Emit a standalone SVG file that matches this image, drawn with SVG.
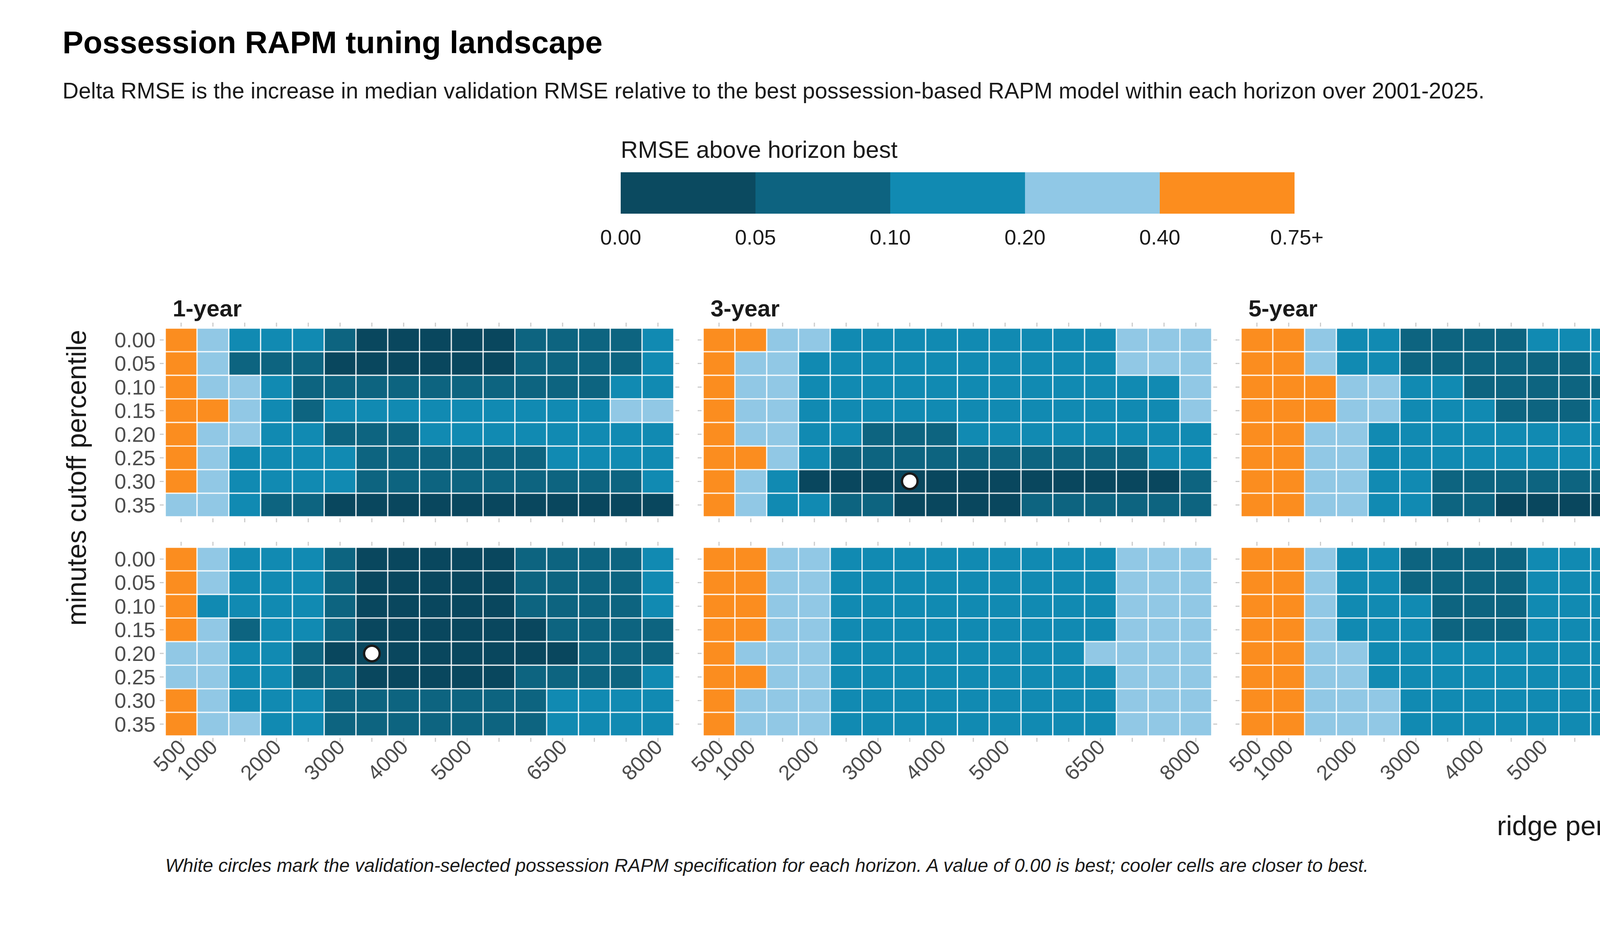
<svg xmlns="http://www.w3.org/2000/svg" width="4736" height="2368" viewBox="0 0 4736 2368">
<style>
.o{fill:#FB8D1F}.l{fill:#91C8E5}.m{fill:#118AB2}.d{fill:#0D6480}.k{fill:#09475E}
text{font-family:"Liberation Sans",Arial,sans-serif}
.yt{font-size:54px;fill:#4d4d4d;text-anchor:end}
.xt{font-size:54px;fill:#4d4d4d;text-anchor:end}
.st{font-size:60px;font-weight:bold;fill:#1a1a1a}
.lg{font-size:54px;fill:#1a1a1a;text-anchor:middle}
.tk{stroke:#cccccc;stroke-width:10;fill:none}
.tkh{stroke-dasharray:3 78.375;stroke-dashoffset:-39.19}
.tkv{stroke-dasharray:3 57.375;stroke-dashoffset:-28.69}
.sel{fill:#ffffff;stroke:#1a1a1a;stroke-width:6}
</style>
<defs>
<pattern id="grid" patternUnits="userSpaceOnUse" width="81.375" height="60.375">
<path d="M0 0H81.375M0 60.375H81.375M0 0V60.375M81.375 0V60.375" stroke="#ffffff" stroke-width="3" fill="none"/>
</pattern>
</defs>
<rect width="4736" height="2368" fill="#ffffff"/>
<text x="160" y="136" font-size="80" font-weight="bold" fill="#000">Possession RAPM tuning landscape</text>
<text x="160" y="252" font-size="57" fill="#1a1a1a">Delta RMSE is the increase in median validation RMSE relative to the best possession-based RAPM model within each horizon over 2001-2025.</text>
<g id="legend">
<text x="1589" y="404" font-size="61" fill="#1a1a1a">RMSE above horizon best</text>
<rect x="1589" y="441" width="345" height="106" fill="#0B4A60"/>
<rect x="1934" y="441" width="345" height="106" fill="#0D6380"/>
<rect x="2279" y="441" width="345" height="106" fill="#118AB2"/>
<rect x="2624" y="441" width="345" height="106" fill="#90C8E6"/>
<rect x="2969" y="441" width="345" height="106" fill="#FC8D1E"/>
<text class="lg" x="1589" y="626">0.00</text>
<text class="lg" x="1934" y="626">0.05</text>
<text class="lg" x="2279" y="626">0.10</text>
<text class="lg" x="2624" y="626">0.20</text>
<text class="lg" x="2969" y="626">0.40</text>
<text class="lg" x="3320" y="626">0.75+</text>
</g>
<text class="st" x="442" y="810">1-year</text>
<text class="st" x="1819" y="810">3-year</text>
<text class="st" x="3196" y="810">5-year</text>
<text class="st" transform="translate(4494,1081) rotate(90)" text-anchor="middle">pool</text>
<text class="st" transform="translate(4494,1643) rotate(90)" text-anchor="middle">drop</text>
<text transform="translate(220,1223) rotate(-90)" font-size="70" fill="#1a1a1a" text-anchor="middle">minutes cutoff percentile</text>
<g id="ytl">
<text class="yt" x="398" y="889">0.00</text><text class="yt" x="398" y="949">0.05</text><text class="yt" x="398" y="1010">0.10</text><text class="yt" x="398" y="1070">0.15</text><text class="yt" x="398" y="1131">0.20</text><text class="yt" x="398" y="1191">0.25</text><text class="yt" x="398" y="1251">0.30</text><text class="yt" x="398" y="1312">0.35</text>
<text class="yt" x="398" y="1450">0.00</text><text class="yt" x="398" y="1510">0.05</text><text class="yt" x="398" y="1571">0.10</text><text class="yt" x="398" y="1631">0.15</text><text class="yt" x="398" y="1692">0.20</text><text class="yt" x="398" y="1752">0.25</text><text class="yt" x="398" y="1812">0.30</text><text class="yt" x="398" y="1873">0.35</text>
</g>
<g id="ticks" class="tk">
<path class="tkh" d="M423 831H1725M1800 831H3102M3177 831H4479M423 1332H1725M1800 1332H3102M3177 1332H4479M423 1392H1725M1800 1392H3102M3177 1392H4479M423 1894H1725M1800 1894H3102M3177 1894H4479"/>
<path class="tkv" d="M414 840V1323M1734 840V1323M1791 840V1323M3111 840V1323M3168 840V1323M4488 840V1323M414 1401V1884M1734 1401V1884M1791 1401V1884M3111 1401V1884M3168 1401V1884M4488 1401V1884"/>
</g>
<g id="panel-1year-pool" transform="translate(423,840)">
<g transform="scale(81.375,60.375)">
<rect class="m" width="16" height="8"/>
<rect class="o" x="0" y="0" width="1" height="1"/><rect class="l" x="1" y="0" width="1" height="1"/><rect class="d" x="5" y="0" width="1" height="1"/><rect class="k" x="6" y="0" width="5" height="1"/><rect class="d" x="11" y="0" width="4" height="1"/>
<rect class="o" x="0" y="1" width="1" height="1"/><rect class="l" x="1" y="1" width="1" height="1"/><rect class="d" x="2" y="1" width="3" height="1"/><rect class="k" x="5" y="1" width="6" height="1"/><rect class="d" x="11" y="1" width="4" height="1"/>
<rect class="o" x="0" y="2" width="1" height="1"/><rect class="l" x="1" y="2" width="2" height="1"/><rect class="d" x="4" y="2" width="10" height="1"/>
<rect class="o" x="0" y="3" width="2" height="1"/><rect class="l" x="2" y="3" width="1" height="1"/><rect class="d" x="4" y="3" width="1" height="1"/><rect class="l" x="14" y="3" width="2" height="1"/>
<rect class="o" x="0" y="4" width="1" height="1"/><rect class="l" x="1" y="4" width="2" height="1"/><rect class="d" x="5" y="4" width="3" height="1"/>
<rect class="o" x="0" y="5" width="1" height="1"/><rect class="l" x="1" y="5" width="1" height="1"/><rect class="d" x="6" y="5" width="6" height="1"/>
<rect class="o" x="0" y="6" width="1" height="1"/><rect class="l" x="1" y="6" width="1" height="1"/><rect class="d" x="6" y="6" width="9" height="1"/>
<rect class="l" x="0" y="7" width="2" height="1"/><rect class="d" x="3" y="7" width="2" height="1"/><rect class="k" x="5" y="7" width="11" height="1"/>
</g>
<rect width="1302" height="483" fill="url(#grid)"/>
</g>
<g id="panel-3year-pool" transform="translate(1800,840)">
<g transform="scale(81.375,60.375)">
<rect class="m" width="16" height="8"/>
<rect class="o" x="0" y="0" width="2" height="1"/><rect class="l" x="2" y="0" width="2" height="1"/><rect class="l" x="13" y="0" width="3" height="1"/>
<rect class="o" x="0" y="1" width="1" height="1"/><rect class="l" x="1" y="1" width="2" height="1"/><rect class="l" x="13" y="1" width="3" height="1"/>
<rect class="o" x="0" y="2" width="1" height="1"/><rect class="l" x="1" y="2" width="2" height="1"/><rect class="l" x="15" y="2" width="1" height="1"/>
<rect class="o" x="0" y="3" width="1" height="1"/><rect class="l" x="1" y="3" width="2" height="1"/><rect class="l" x="15" y="3" width="1" height="1"/>
<rect class="o" x="0" y="4" width="1" height="1"/><rect class="l" x="1" y="4" width="2" height="1"/><rect class="d" x="5" y="4" width="3" height="1"/>
<rect class="o" x="0" y="5" width="2" height="1"/><rect class="l" x="2" y="5" width="1" height="1"/><rect class="d" x="4" y="5" width="10" height="1"/>
<rect class="o" x="0" y="6" width="1" height="1"/><rect class="l" x="1" y="6" width="1" height="1"/><rect class="k" x="3" y="6" width="12" height="1"/><rect class="d" x="15" y="6" width="1" height="1"/>
<rect class="o" x="0" y="7" width="1" height="1"/><rect class="l" x="1" y="7" width="1" height="1"/><rect class="d" x="4" y="7" width="2" height="1"/><rect class="k" x="6" y="7" width="4" height="1"/><rect class="d" x="10" y="7" width="6" height="1"/>
</g>
<rect width="1302" height="483" fill="url(#grid)"/>
<circle class="sel" cx="529" cy="392" r="20"/>
</g>
<g id="panel-5year-pool" transform="translate(3177,840)">
<g transform="scale(81.375,60.375)">
<rect class="m" width="16" height="8"/>
<rect class="o" x="0" y="0" width="2" height="1"/><rect class="l" x="2" y="0" width="1" height="1"/><rect class="d" x="5" y="0" width="4" height="1"/><rect class="l" x="15" y="0" width="1" height="1"/>
<rect class="o" x="0" y="1" width="2" height="1"/><rect class="l" x="2" y="1" width="1" height="1"/><rect class="d" x="5" y="1" width="6" height="1"/>
<rect class="o" x="0" y="2" width="3" height="1"/><rect class="l" x="3" y="2" width="2" height="1"/><rect class="d" x="7" y="2" width="5" height="1"/>
<rect class="o" x="0" y="3" width="3" height="1"/><rect class="l" x="3" y="3" width="2" height="1"/><rect class="d" x="8" y="3" width="3" height="1"/>
<rect class="o" x="0" y="4" width="2" height="1"/><rect class="l" x="2" y="4" width="2" height="1"/>
<rect class="o" x="0" y="5" width="2" height="1"/><rect class="l" x="2" y="5" width="2" height="1"/>
<rect class="o" x="0" y="6" width="2" height="1"/><rect class="l" x="2" y="6" width="2" height="1"/><rect class="d" x="6" y="6" width="9" height="1"/>
<rect class="o" x="0" y="7" width="2" height="1"/><rect class="l" x="2" y="7" width="2" height="1"/><rect class="d" x="6" y="7" width="2" height="1"/><rect class="k" x="8" y="7" width="8" height="1"/>
</g>
<rect width="1302" height="483" fill="url(#grid)"/>
<circle class="sel" cx="1017" cy="453" r="20"/>
</g>
<g id="panel-1year-drop" transform="translate(423,1401)">
<g transform="scale(81.375,60.375)">
<rect class="m" width="16" height="8"/>
<rect class="o" x="0" y="0" width="1" height="1"/><rect class="l" x="1" y="0" width="1" height="1"/><rect class="d" x="5" y="0" width="1" height="1"/><rect class="k" x="6" y="0" width="5" height="1"/><rect class="d" x="11" y="0" width="4" height="1"/>
<rect class="o" x="0" y="1" width="1" height="1"/><rect class="l" x="1" y="1" width="1" height="1"/><rect class="d" x="5" y="1" width="1" height="1"/><rect class="k" x="6" y="1" width="5" height="1"/><rect class="d" x="11" y="1" width="4" height="1"/>
<rect class="o" x="0" y="2" width="1" height="1"/><rect class="d" x="5" y="2" width="1" height="1"/><rect class="k" x="6" y="2" width="5" height="1"/><rect class="d" x="11" y="2" width="4" height="1"/>
<rect class="o" x="0" y="3" width="1" height="1"/><rect class="l" x="1" y="3" width="1" height="1"/><rect class="d" x="2" y="3" width="1" height="1"/><rect class="d" x="5" y="3" width="1" height="1"/><rect class="k" x="6" y="3" width="6" height="1"/><rect class="d" x="12" y="3" width="4" height="1"/>
<rect class="l" x="0" y="4" width="2" height="1"/><rect class="d" x="4" y="4" width="1" height="1"/><rect class="k" x="5" y="4" width="8" height="1"/><rect class="d" x="13" y="4" width="3" height="1"/>
<rect class="l" x="0" y="5" width="2" height="1"/><rect class="d" x="4" y="5" width="2" height="1"/><rect class="k" x="6" y="5" width="5" height="1"/><rect class="d" x="11" y="5" width="4" height="1"/>
<rect class="o" x="0" y="6" width="1" height="1"/><rect class="l" x="1" y="6" width="1" height="1"/><rect class="d" x="5" y="6" width="7" height="1"/>
<rect class="o" x="0" y="7" width="1" height="1"/><rect class="l" x="1" y="7" width="2" height="1"/><rect class="d" x="5" y="7" width="7" height="1"/>
</g>
<rect width="1302" height="483" fill="url(#grid)"/>
<circle class="sel" cx="529" cy="272" r="20"/>
</g>
<g id="panel-3year-drop" transform="translate(1800,1401)">
<g transform="scale(81.375,60.375)">
<rect class="m" width="16" height="8"/>
<rect class="o" x="0" y="0" width="2" height="4"/><rect class="l" x="2" y="0" width="2" height="4"/><rect class="l" x="13" y="0" width="3" height="4"/>
<rect class="o" x="0" y="4" width="1" height="1"/><rect class="l" x="1" y="4" width="3" height="1"/><rect class="l" x="12" y="4" width="4" height="1"/>
<rect class="o" x="0" y="5" width="2" height="1"/><rect class="l" x="2" y="5" width="2" height="1"/><rect class="l" x="13" y="5" width="3" height="1"/>
<rect class="o" x="0" y="6" width="1" height="2"/><rect class="l" x="1" y="6" width="3" height="2"/><rect class="l" x="13" y="6" width="3" height="2"/>
</g>
<rect width="1302" height="483" fill="url(#grid)"/>
</g>
<g id="panel-5year-drop" transform="translate(3177,1401)">
<g transform="scale(81.375,60.375)">
<rect class="m" width="16" height="8"/>
<rect class="o" x="0" y="0" width="2" height="8"/>
<rect class="l" x="2" y="0" width="1" height="4"/><rect class="d" x="5" y="0" width="4" height="2"/><rect class="d" x="6" y="2" width="3" height="2"/><rect class="l" x="15" y="0" width="1" height="4"/>
<rect class="l" x="2" y="4" width="2" height="2"/><rect class="l" x="14" y="4" width="2" height="1"/><rect class="l" x="15" y="5" width="1" height="1"/>
<rect class="l" x="2" y="6" width="3" height="2"/><rect class="l" x="14" y="6" width="2" height="2"/>
</g>
<rect width="1302" height="483" fill="url(#grid)"/>
</g>
<g id="xtl">
<g transform="translate(423,0)">
<text class="xt" transform="translate(56,1916) rotate(-45)">500</text><text class="xt" transform="translate(137,1916) rotate(-45)">1000</text><text class="xt" transform="translate(300,1916) rotate(-45)">2000</text><text class="xt" transform="translate(463,1916) rotate(-45)">3000</text><text class="xt" transform="translate(625,1916) rotate(-45)">4000</text><text class="xt" transform="translate(788,1916) rotate(-45)">5000</text><text class="xt" transform="translate(1032,1916) rotate(-45)">6500</text><text class="xt" transform="translate(1276,1916) rotate(-45)">8000</text>
</g>
<g transform="translate(1800,0)">
<text class="xt" transform="translate(56,1916) rotate(-45)">500</text><text class="xt" transform="translate(137,1916) rotate(-45)">1000</text><text class="xt" transform="translate(300,1916) rotate(-45)">2000</text><text class="xt" transform="translate(463,1916) rotate(-45)">3000</text><text class="xt" transform="translate(625,1916) rotate(-45)">4000</text><text class="xt" transform="translate(788,1916) rotate(-45)">5000</text><text class="xt" transform="translate(1032,1916) rotate(-45)">6500</text><text class="xt" transform="translate(1276,1916) rotate(-45)">8000</text>
</g>
<g transform="translate(3177,0)">
<text class="xt" transform="translate(56,1916) rotate(-45)">500</text><text class="xt" transform="translate(137,1916) rotate(-45)">1000</text><text class="xt" transform="translate(300,1916) rotate(-45)">2000</text><text class="xt" transform="translate(463,1916) rotate(-45)">3000</text><text class="xt" transform="translate(625,1916) rotate(-45)">4000</text><text class="xt" transform="translate(788,1916) rotate(-45)">5000</text><text class="xt" transform="translate(1032,1916) rotate(-45)">6500</text><text class="xt" transform="translate(1276,1916) rotate(-45)">8000</text>
</g>
</g>
<text x="4482" y="2138" font-size="70" fill="#1a1a1a" text-anchor="end">ridge penalty lambda</text>
<text x="423" y="2232" font-size="48" font-style="italic" fill="#1a1a1a">White circles mark the validation-selected possession RAPM specification for each horizon. A value of 0.00 is best; cooler cells are closer to best.</text>
</svg>
